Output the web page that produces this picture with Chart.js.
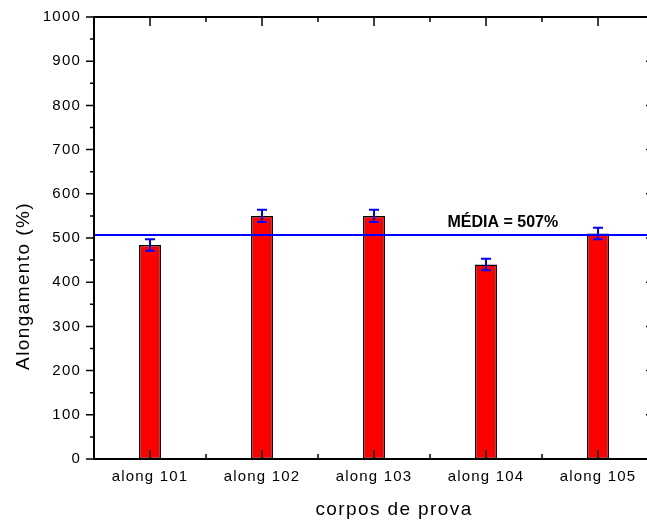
<!DOCTYPE html>
<html>
<head>
<meta charset="utf-8">
<title>Alongamento</title>
<script src="https://cdn.jsdelivr.net/npm/chart.js@4/dist/chart.umd.min.js"></script>
<style>
    html, body { margin: 0; padding: 0; background: #fff; overflow: hidden; }
    #wrap { width: 647px; height: 525px; overflow: hidden; }
    canvas { display: block; }
</style>
</head>
<body>
<div id="wrap"><canvas id="alongChart" width="662" height="525"></canvas></div>
<script>
// dados dos corpos de prova
const categories = ['along 101', 'along 102', 'along 103', 'along 104', 'along 105'];
const alongamento = [484, 550, 550, 440, 510];
const erros = [13, 14, 14, 13, 13];
const media = 507;

// eixo y
const yTickValues = [0, 100, 200, 300, 400, 500, 600, 700, 800, 900, 1000];
const yMinorValues = [50, 150, 250, 350, 450, 550, 650, 750, 850, 950];

const yTitle = 'Alongamento (%)';
const xTitle = 'corpos de prova';
const mediaLabel = 'MÉDIA = ' + media + '%';

const FONT = '"Liberation Sans", Arial, sans-serif';

// moldura, ticks, barras de erro, linha da média e títulos
const moldura = {
    id: 'moldura',
    beforeDraw(chart) {
        chart.ctx.letterSpacing = '1.2px';
    },
    afterDatasetsDraw(chart) {
        const { ctx, chartArea: a, scales: { x, y } } = chart;
        ctx.save();

        // linha da média
        const yMed = y.getPixelForValue(media);
        ctx.strokeStyle = '#0000ff';
        ctx.lineWidth = 2;
        ctx.beginPath();
        ctx.moveTo(a.left, yMed);
        ctx.lineTo(a.right, yMed);
        ctx.stroke();

        // barras de erro
        const meta = chart.getDatasetMeta(0);
        meta.data.forEach((bar, i) => {
            const top = y.getPixelForValue(alongamento[i] + erros[i]);
            const bot = y.getPixelForValue(alongamento[i] - erros[i]);
            ctx.beginPath();
            ctx.moveTo(bar.x, top); ctx.lineTo(bar.x, bot);
            ctx.moveTo(bar.x - 5, top); ctx.lineTo(bar.x + 5, top);
            ctx.moveTo(bar.x - 5, bot); ctx.lineTo(bar.x + 5, bot);
            ctx.stroke();
        });

        // moldura
        ctx.strokeStyle = '#000';
        ctx.lineWidth = 2;
        ctx.strokeRect(a.left, a.top, a.right - a.left, a.bottom - a.top);

        ctx.lineWidth = 1.5;
        ctx.beginPath();
        // eixo y: esquerda pra fora, direita pra dentro
        yTickValues.forEach(v => {
            const py = y.getPixelForValue(v);
            ctx.moveTo(a.left - 8, py); ctx.lineTo(a.left, py);
            ctx.moveTo(a.right - 8, py); ctx.lineTo(a.right, py);
        });
        yMinorValues.forEach(v => {
            const py = y.getPixelForValue(v);
            ctx.moveTo(a.left - 4, py); ctx.lineTo(a.left, py);
            ctx.moveTo(a.right - 4, py); ctx.lineTo(a.right, py);
        });
        // eixo x: ticks pra dentro em cima e embaixo
        categories.forEach((c, i) => {
            const px = x.getPixelForValue(i);
            ctx.moveTo(px, a.bottom); ctx.lineTo(px, a.bottom - 9);
            ctx.moveTo(px, a.top); ctx.lineTo(px, a.top + 9);
            if (i > 0) {
                const pb = (px + x.getPixelForValue(i - 1)) / 2;
                ctx.moveTo(pb, a.bottom); ctx.lineTo(pb, a.bottom - 5);
                ctx.moveTo(pb, a.top); ctx.lineTo(pb, a.top + 5);
            }
        });
        ctx.stroke();

        // texto da média
        ctx.letterSpacing = '0px';
        ctx.fillStyle = '#000';
        ctx.font = 'bold 16px ' + FONT;
        ctx.textAlign = 'center';
        ctx.textBaseline = 'alphabetic';
        ctx.fillText(mediaLabel, a.left + (a.right - a.left) * 0.73, yMed - 8);

        // títulos dos eixos
        ctx.letterSpacing = '1.4px';
        ctx.font = '19px ' + FONT;
        ctx.textBaseline = 'middle';
        ctx.fillText(xTitle, a.left + 300, a.bottom + 51);

        ctx.translate(a.left - 70, a.top + 269);
        ctx.rotate(-Math.PI / 2);
        ctx.fillText(yTitle, 0, 0);

        ctx.restore();
    }
};

document.addEventListener('DOMContentLoaded', () => {
    const ctx = document.getElementById('alongChart').getContext('2d');

    new Chart(ctx, {
        type: 'bar',
        data: {
            labels: categories,
            datasets: [{
                data: alongamento,
                backgroundColor: '#ff0000',
                borderColor: '#000000',
                borderWidth: 1.5,
                borderSkipped: false,
                categoryPercentage: 1,
                barPercentage: 0.196
            }]
        },
        options: {
            responsive: false,
            animation: false,
            layout: { padding: { left: 0, top: 17, right: 8, bottom: 0 } },
            plugins: {
                legend: { display: false },
                tooltip: { enabled: false }
            },
            scales: {
                x: {
                    offset: true,
                    grid: { display: false, drawTicks: false },
                    border: { display: false },
                    ticks: {
                        color: '#000',
                        padding: 9,
                        font: { family: FONT, size: 15 }
                    },
                    afterFit(scale) {
                        scale.height = 66;
                        scale.paddingLeft = 0;
                        scale.paddingRight = 0;
                    }
                },
                y: {
                    min: 0,
                    max: 1000,
                    grid: { display: false, drawTicks: false },
                    border: { display: false },
                    ticks: {
                        color: '#000',
                        padding: 13,
                        font: { family: FONT, size: 15 },
                        callback: v => String(v)
                    },
                    afterBuildTicks(scale) {
                        scale.ticks = yTickValues.map(v => ({ value: v }));
                    },
                    afterFit(scale) {
                        scale.width = 94;
                        scale.paddingTop = 0;
                        scale.paddingBottom = 0;
                    }
                }
            }
        },
        plugins: [moldura]
    });
});
</script>
</body>
</html>
